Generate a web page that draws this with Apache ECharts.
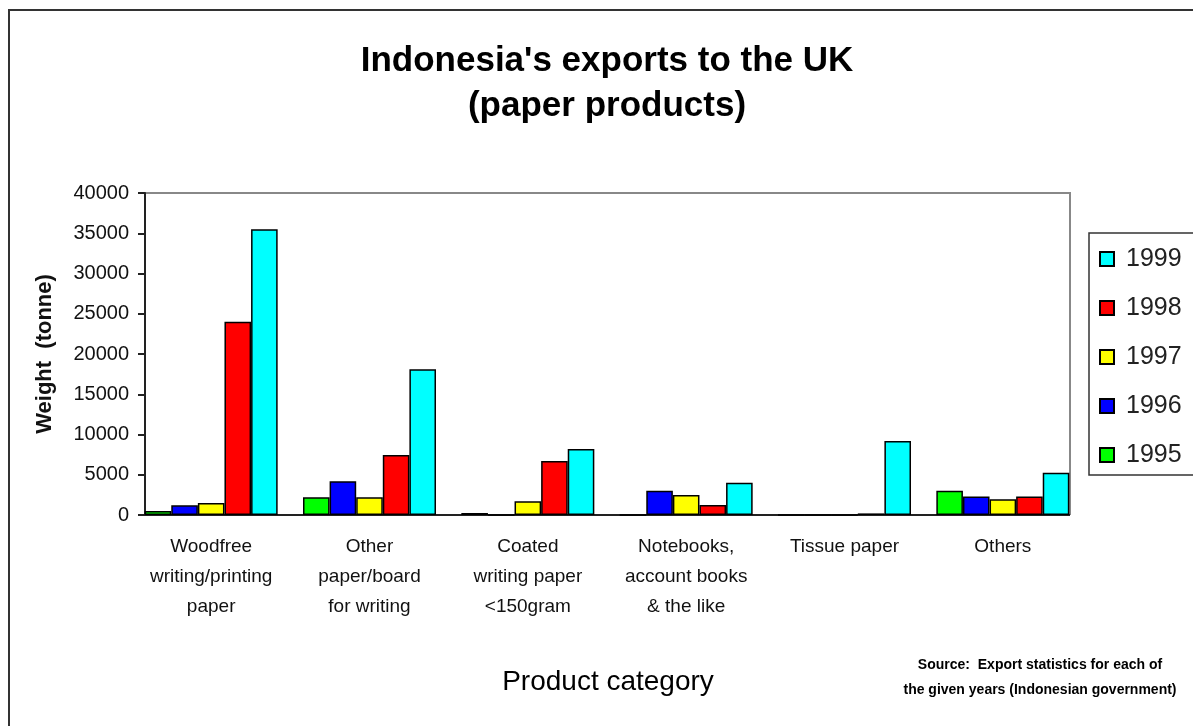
<!DOCTYPE html>
<html>
<head>
<meta charset="utf-8">
<title>Indonesia's exports to the UK</title>
<script src="https://cdn.jsdelivr.net/npm/echarts@6/dist/echarts.min.js"></script>
<style>
  html, body { margin: 0; padding: 0; background: #fff; overflow: hidden; }
  #main { width: 1193px; height: 726px; }
  #frame { position: absolute; left: 8px; top: 9px; width: 2000px; height: 2000px;
           border: 2px solid #333; pointer-events: none; }
</style>
</head>
<body>
<div id="main"></div>
<div id="frame"></div>
<script>
// 产品类别
const categories = [
  'Woodfree\nwriting/printing\npaper',
  'Other\npaper/board\nfor writing',
  'Coated\nwriting paper\n<150gram',
  'Notebooks,\naccount books\n& the like',
  'Tissue paper',
  'Others'
];
const years = ['1995', '1996', '1997', '1998', '1999'];
// 各年数据（吨）
const y1995 = [500, 2200, 250, 0, 0, 3000];
const y1996 = [1200, 4200, 0, 3000, 0, 2300];
const y1997 = [1500, 2200, 1700, 2500, 0, 1950];
const y1998 = [24000, 7450, 6700, 1250, 200, 2300];
const y1999 = [35500, 18100, 8200, 4000, 9200, 5250];
const yTicks = [0, 5000, 10000, 15000, 20000, 25000, 30000, 35000, 40000];

const colors = ['#00ff00', '#0000ff', '#ffff00', '#ff0000', '#00ffff'];
const values = [y1995, y1996, y1997, y1998, y1999];
const FONT = '"Liberation Sans", Arial, sans-serif';

const chart = echarts.init(document.getElementById('main'));

const series = years.map((yr, k) => ({
  name: yr,
  type: 'bar',
  data: values[k],
  barGap: '0%',
  barCategoryGap: '16%',
  itemStyle: { color: colors[k], borderColor: '#000', borderWidth: 1.5 }
}));

const option = {
  backgroundColor: '#fff',
  animation: false,
  textStyle: { fontFamily: FONT },
  grid: { left: 132, top: 193, width: 950, height: 322, containLabel: false },
  legend: {
    data: years.slice().reverse(),
    orient: 'vertical',
    left: 1089,
    top: 233,
    padding: [12, 120, 6, 10],
    itemWidth: 14,
    itemHeight: 14,
    itemGap: 21,
    icon: 'rect',
    borderColor: '#333',
    borderWidth: 1.5,
    textStyle: { fontSize: 25, color: '#222', fontFamily: FONT, lineHeight: 28, padding: [0, 0, 0, 7] }
  },
  xAxis: {
    type: 'category',
    data: categories,
    axisLine: { show: false },
    axisTick: { show: false },
    axisLabel: { interval: 0, margin: 17, fontSize: 19, lineHeight: 30, color: '#111', fontFamily: FONT }
  },
  yAxis: {
    type: 'value',
    min: 0,
    max: yTicks[yTicks.length - 1],
    interval: 5000,
    offset: -13,
    name: 'Weight  (tonne)',
    nameLocation: 'middle',
    nameGap: 89,
    nameTextStyle: { fontSize: 22, fontWeight: 'bold', color: '#111', fontFamily: FONT },
    axisLine: { show: true, lineStyle: { color: '#222', width: 2 } },
    axisTick: { show: true, length: 7, lineStyle: { color: '#222', width: 2 } },
    axisLabel: { margin: 16, fontSize: 20, color: '#111', fontFamily: FONT, formatter: v => String(v) },
    splitLine: { show: false }
  },
  graphic: [
    { type: 'text', x: 607, y: 44, style: { text: "Indonesia's exports to the UK", font: 'bold 35px ' + FONT, fill: '#000', textAlign: 'center' } },
    { type: 'text', x: 607, y: 89, style: { text: '(paper products)', font: 'bold 35px ' + FONT, fill: '#000', textAlign: 'center' } },
    { type: 'text', x: 608, y: 668, style: { text: 'Product category', font: '28px ' + FONT, fill: '#000', textAlign: 'center' } },
    { type: 'text', x: 1040, y: 653, style: { text: 'Source:  Export statistics for each of\nthe given years (Indonesian government)', font: 'bold 14px ' + FONT, lineHeight: 25, fill: '#000', textAlign: 'center' } },
    // 绘图区边框
    { type: 'polyline', shape: { points: [[145, 193], [1070, 193], [1070, 515]] }, style: { stroke: '#888', lineWidth: 2, fill: null } },
    { type: 'line', shape: { x1: 138, y1: 515, x2: 1070, y2: 515 }, style: { stroke: '#222', lineWidth: 2 } }
  ],
  series: series
};

chart.setOption(option);
</script>
</body>
</html>
